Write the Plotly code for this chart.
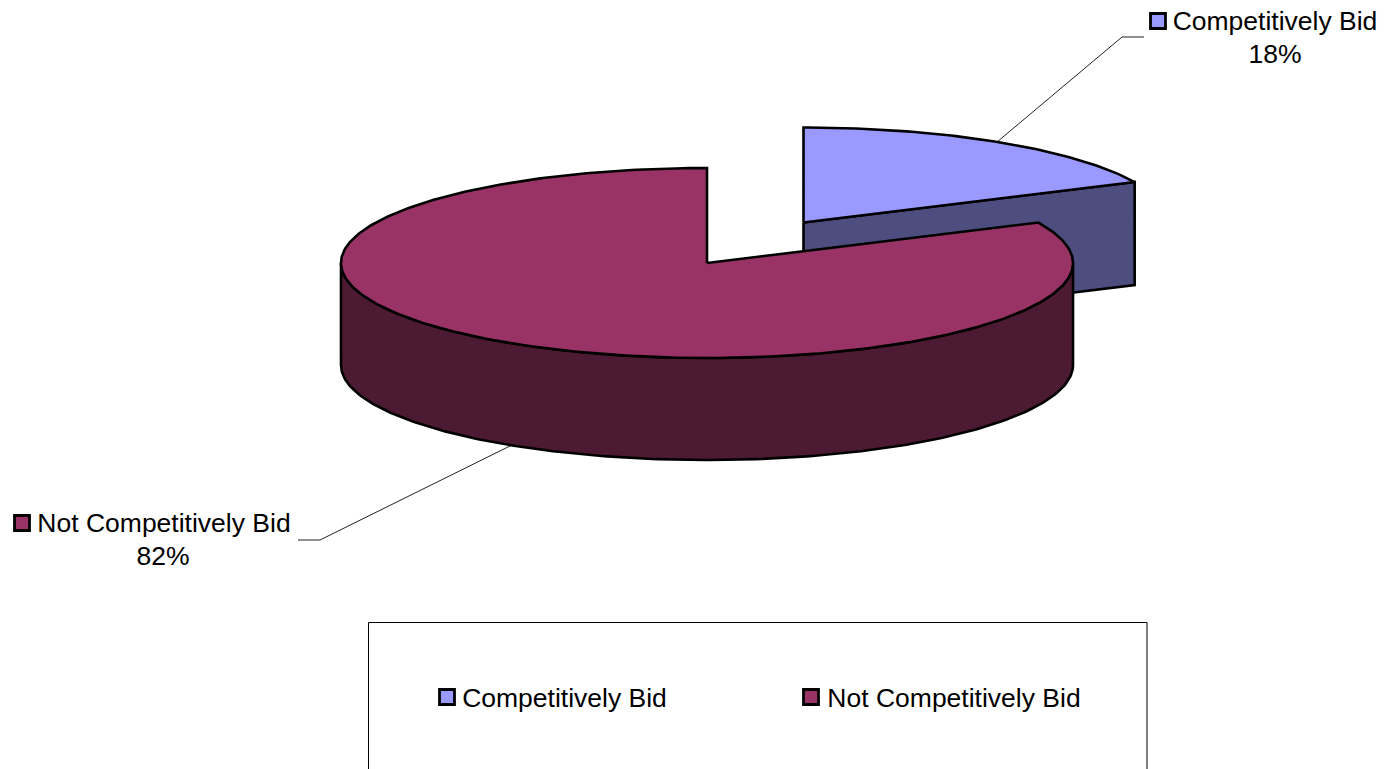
import numpy as np
import plotly.graph_objects as go

categories = ["Competitively Bid", "Not Competitively Bid"]
shares = [18, 82]
percent_labels = ["18%", "82%"]

TOP = ["#9999FF", "#993366"]
SIDE = ["#4D4D80", "#4D1A33"]
CX, CY, RX, RY, DEPTH = 707, 263, 366, 95, 102
EXPLODE = (96.5, -40.5)
W, H = 1386, 769
FONT = dict(family="Liberation Sans, Arial, sans-serif", size=26.5, color="#000000")

end = 360 * shares[0] / sum(shares)


def pt(t, cx, cy, dy=0):
    r = np.radians(t)
    return cx + RX * np.sin(r), cy - RY * np.cos(r) + dy


def poly(fig, x, y, color, lw=2.6):
    fig.add_trace(go.Scatter(x=list(x), y=list(y), mode="lines", fill="toself",
                             fillcolor=color, line=dict(color="#000000", width=lw),
                             hoverinfo="skip", showlegend=False))


def line(fig, x, y, color="#222222", lw=1):
    fig.add_trace(go.Scatter(x=x, y=y, mode="lines", line=dict(color=color, width=lw),
                             hoverinfo="skip", showlegend=False))


def label(fig, x, y, s):
    fig.add_trace(go.Scatter(x=[x], y=[y], mode="text", text=[s], textposition="middle center",
                             textfont=FONT, hoverinfo="skip", showlegend=False))


def swatch(fig, x, y, color):
    fig.add_trace(go.Scatter(x=[x], y=[y], mode="markers",
                             marker=dict(symbol="square", size=15, color=color,
                                         line=dict(color="#000000", width=2.8)),
                             hoverinfo="skip", showlegend=False))


fig = go.Figure()

# leader lines
line(fig, [997, 1122, 1144], [142, 37, 37])
line(fig, [512, 320, 298], [445, 540, 540])

# exploded slice
bx, by = CX + EXPLODE[0], CY + EXPLODE[1]
tx, ty = pt(end, bx, by)
poly(fig, [bx, tx, tx, bx, bx], [by, ty, ty + DEPTH + 1, by + DEPTH + 1, by], SIDE[0])
t = np.linspace(0, end, 80)
ax, ay = pt(t, bx, by)
poly(fig, np.r_[bx, ax, bx], np.r_[by, ay, by], TOP[0])

# main slice: outer wall
t = np.linspace(90, 270, 200)
ux, uy = pt(t, CX, CY)
lx, ly = pt(t, CX, CY, DEPTH)
poly(fig, np.r_[ux, lx[::-1], ux[0]], np.r_[uy, ly[::-1], uy[0]], SIDE[1])

# main slice: top face
t = np.linspace(end, 360, 400)
ax, ay = pt(t, CX, CY)
poly(fig, np.r_[CX, ax, CX], np.r_[CY, ay, CY], TOP[1])

# data labels
swatch(fig, 1158, 21, TOP[0])
label(fig, 1275, 23.5, categories[0])
label(fig, 1275, 56.5, percent_labels[0])
swatch(fig, 22, 523, TOP[1])
label(fig, 164, 525.5, categories[1])
label(fig, 163, 558, percent_labels[1])

# legend box
line(fig, [368.5, 368.5, 1147, 1147], [769, 622.5, 622.5, 769], color="#000000", lw=1)
swatch(fig, 447, 697, TOP[0])
label(fig, 564.5, 700.5, categories[0])
swatch(fig, 811, 697, TOP[1])
label(fig, 954, 700.5, categories[1])

fig.update_layout(width=W, height=H, margin=dict(l=0, r=0, t=0, b=0),
                  paper_bgcolor="#FFFFFF", plot_bgcolor="#FFFFFF", showlegend=False,
                  xaxis=dict(range=[0, W], visible=False, fixedrange=True),
                  yaxis=dict(range=[H, 0], visible=False, fixedrange=True))
fig.write_html("out.html", config=dict(displayModeBar=False),
               post_script="document.body.style.margin='0';document.body.style.overflow='hidden';")
